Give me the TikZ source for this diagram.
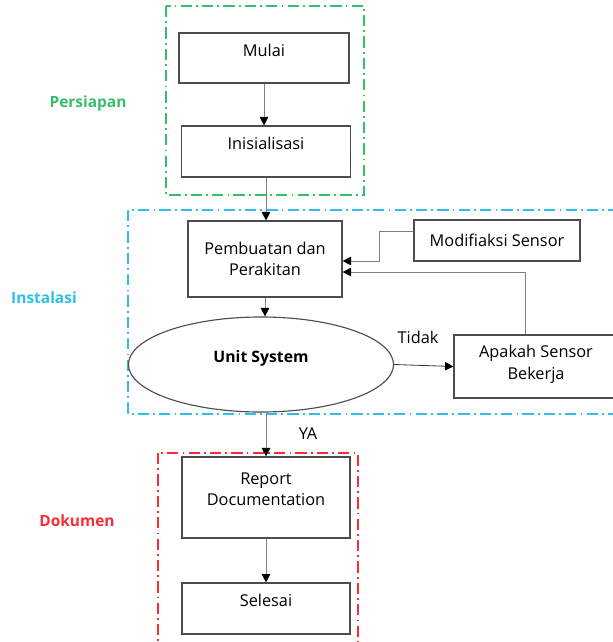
\documentclass[tikz,border=0pt]{standalone}
\usepackage{fontspec}
\setmainfont{Open Sans}
\usetikzlibrary{arrows.meta,shapes.geometric}
\definecolor{PrepGreen}{RGB}{55,190,105}
\definecolor{InstBlue}{RGB}{45,190,235}
\definecolor{DocRed}{RGB}{250,45,55}

\begin{document}
\begin{tikzpicture}[x=0.025cm,y=-0.025cm,
        proc/.style={draw=black!70, line width=0.8pt, align=center, inner sep=0pt,
                     font=\fontsize{11.6}{15}\selectfont},
        high/.style={text depth=11pt},
        flow/.style={draw=black!50, line width=0.6pt,
                     -{Triangle[length=6pt,width=6pt,color=black]}},
        group/.style={line width=1pt, dash pattern=on 8pt off 3pt on 1.2pt off 3pt},
        tag/.style={font=\fontsize{11}{14}\selectfont\bfseries}]
    \useasboundingbox (0,0) rectangle (612,642);

%   groups
    \draw[group,PrepGreen] (166,6) rectangle (364,195);
    \draw[group,InstBlue] (128,210) rectangle (640,414);
    \draw[group,DocRed] (158,453) rectangle (358,680);
    \node[tag,PrepGreen] (persiapan) at (88,103) {Persiapan};
    \node[tag,InstBlue] (instalasi) at (44,298) {Instalasi};
    \node[tag,DocRed] (dokumen) at (77,521) {Dokumen};

%   steps
    \node[proc, high, minimum width=4.25cm, minimum height=1.25cm] (mulai) at (264,58) {Mulai};
    \node[proc, high, minimum width=4.225cm, minimum height=1.275cm] (inis) at (266,151.5) {Inisialisasi};
    \node[proc, minimum width=3.85cm, minimum height=1.9cm] (pem) at (265,259) {Pembuatan dan\\Perakitan};
    \node[proc, minimum width=4.15cm, minimum height=1.025cm] (mod) at (497,240.5) {Modifiaksi Sensor};
    \node[proc, high, ellipse, minimum width=6.625cm, minimum height=2.375cm,
          font=\fontsize{11.2}{14}\selectfont\bfseries] (unit) at (261,364.5) {Unit System};
    \node[proc, minimum width=4.1cm, minimum height=1.575cm] (apa) at (536,366.5) {Apakah Sensor\\Bekerja\\[-9pt]};
    \node[proc, minimum width=4.2cm, minimum height=2.025cm] (rep) at (266,497.5) {Report\\Documentation\\[-3pt]};
    \node[proc, high, minimum width=4.2cm, minimum height=1.275cm] (sel) at (266,608.5) {Selesai};
    \node[font=\fontsize{11.6}{14}\selectfont] (tidak) at (418,337) {Tidak};
    \node[font=\fontsize{11.6}{14}\selectfont] (ya) at (308,434) {YA};

%   connectors
    \coordinate (bendA) at (379,231);
    \coordinate (loopA) at (525,272);
    \draw[flow] (mulai.south) -- (mulai.south |- inis.north);
    \draw[flow] (inis.south) -- (inis.south |- pem.north);
    \draw[flow] (mod.west |- bendA) -- (bendA) |- ([yshift=-0.05cm]pem.east);
    \draw[flow] (apa.north -| loopA) -- (loopA) -- (pem.east |- loopA);
    \draw[flow] (pem.south) -- (pem.south |- unit.north);
    \draw[flow,draw=black!75] (unit.east) -- (apa.west);
    \draw[flow] (rep.north |- unit.south) -- (rep.north);
    \draw[flow] (rep.south) -- (sel.north);
\end{tikzpicture}
\end{document}
